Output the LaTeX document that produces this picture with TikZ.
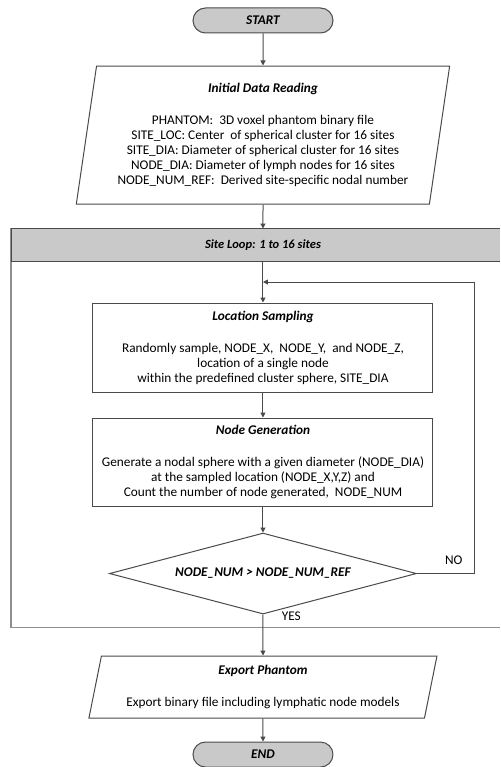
\documentclass[tikz,border=0pt]{standalone}
\usepackage{fontspec}
\setmainfont{Carlito}
\usetikzlibrary{arrows.meta, positioning, shapes.geometric, shapes.misc, calc}
\definecolor{boxgray}{HTML}{C9C9C9}
\definecolor{linegray}{HTML}{4A4A4A}
\definecolor{framegray}{HTML}{8E8E8E}

\begin{document}
\begin{tikzpicture}[x=1pt, y=1pt, node distance=25pt,
  font=\fontsize{13.3}{15}\selectfont,
  terminal/.style={draw=linegray, line width=1pt, fill=boxgray, rounded rectangle,
    minimum width=140pt, minimum height=25pt, inner sep=0pt,
    font=\fontsize{13.3}{15}\selectfont\bfseries\itshape},
  iobox/.style={draw=linegray, line width=1pt, trapezium, trapezium stretches=true,
    align=center, inner sep=0pt},
  process/.style={draw=linegray, line width=1pt, rectangle, minimum width=340pt,
    align=center, inner sep=0pt},
  decision/.style={draw=linegray, line width=1pt, diamond, aspect=3.8,
    minimum width=307pt, minimum height=81pt, inner sep=0pt,
    font=\fontsize{13.3}{15}\selectfont\bfseries\itshape},
  frame/.style={draw=framegray, line width=1.3pt},
  header/.style={draw=linegray, line width=1pt},
  arrow/.style={draw=linegray, line width=1pt, -{Triangle[width=5pt,length=5pt]}},
  lbl/.style={font=\fontsize{13.3}{15}\selectfont}
]
  \useasboundingbox (0,0) rectangle (500,-767);

  \node (start) [terminal] at (263,-20.5) {START};
  \node (read) [iobox, below=32pt of start, trapezium left angle=80.3,
    trapezium right angle=99.7, minimum width=375pt, minimum height=138pt]
    {\bfseries\itshape Initial Data Reading\\[17pt]
     PHANTOM:\ \ 3D voxel phantom binary file\\
     SITE\_LOC: Center\ \ of spherical cluster for 16 sites\\
     SITE\_DIA: Diameter of spherical cluster for 16 sites\\
     NODE\_DIA: Diameter of lymph nodes for 16 sites\\
     NODE\_NUM\_REF:\ \ Derived site-specific nodal number};

  % loop frame, open on the right (it runs off the page)
  \node (loop) [below=24pt of read, xshift=-7.5pt, minimum width=489pt,
    minimum height=399pt, inner sep=0pt, outer sep=0pt] {};
  \node (looptitle) [anchor=north, minimum width=489pt, minimum height=33pt,
    inner sep=0pt, outer sep=0pt] at (loop.north) {};
  \fill[boxgray] (looptitle.north west) rectangle (looptitle.south east);
  \draw[frame] (loop.north east) -- (loop.north west) -- (loop.south west)
    -- (loop.south east);
  \draw[header] (looptitle.north east) -- (looptitle.north west)
    -- (looptitle.south west) -- (looptitle.south east);
  \node (looptext) [font=\fontsize{12.5}{15}\selectfont\bfseries\itshape]
    at (looptitle -| read) {Site Loop: 1 to 16 sites};

  \node (sample) [process, below=41pt of looptitle.south -| read, anchor=north,
    minimum height=89pt]
    {\bfseries\itshape Location Sampling\\[17pt]
     Randomly sample, NODE\_X,\ \ NODE\_Y,\ \ and NODE\_Z,\\
     location of a single node\\
     within the predefined cluster sphere, SITE\_DIA};
  \node (gen) [process, below=25pt of sample, minimum height=88pt]
    {\bfseries\itshape Node Generation\\[17pt]
     Generate a nodal sphere with a given diameter (NODE\_DIA)\\
     at the sampled location (NODE\_X,Y,Z) and\\
     Count the number of node generated,\ \ NODE\_NUM};
  \node (test) [decision, below=26pt of gen] {NODE\_NUM > NODE\_NUM\_REF};

  \node (export) [iobox, below=41pt of test, trapezium left angle=76.4,
    trapezium right angle=103.6, minimum width=349pt, minimum height=62pt]
    {\bfseries\itshape Export Phantom\\[17pt]
     Export binary file including lymphatic node models};
  \node (end) [terminal, below=23pt of export] {END};

  \coordinate (loopin) at (looptitle.south -| read);
  \coordinate (joint) at ($(loopin)!0.5!(sample.north)$);
  \coordinate (loopback) at ($(gen.east)+(41pt,0)$);

  \draw[arrow] (start) -- (read);
  \draw[arrow] (read) -- (read |- looptitle.north);
  \draw[arrow] (loopin) -- (sample);
  \draw[arrow] (sample) -- (gen);
  \draw[arrow] (gen) -- (test);
  \draw[arrow] (test) -- node[lbl, pos=0.05, anchor=west, xshift=15pt] {YES} (export);
  \draw[arrow] (export) -- (end);
  \draw[arrow] (test.east) -- node[lbl, above, pos=0.64, yshift=5pt] {NO}
    (test.east -| loopback) |- (joint);
\end{tikzpicture}
\end{document}
